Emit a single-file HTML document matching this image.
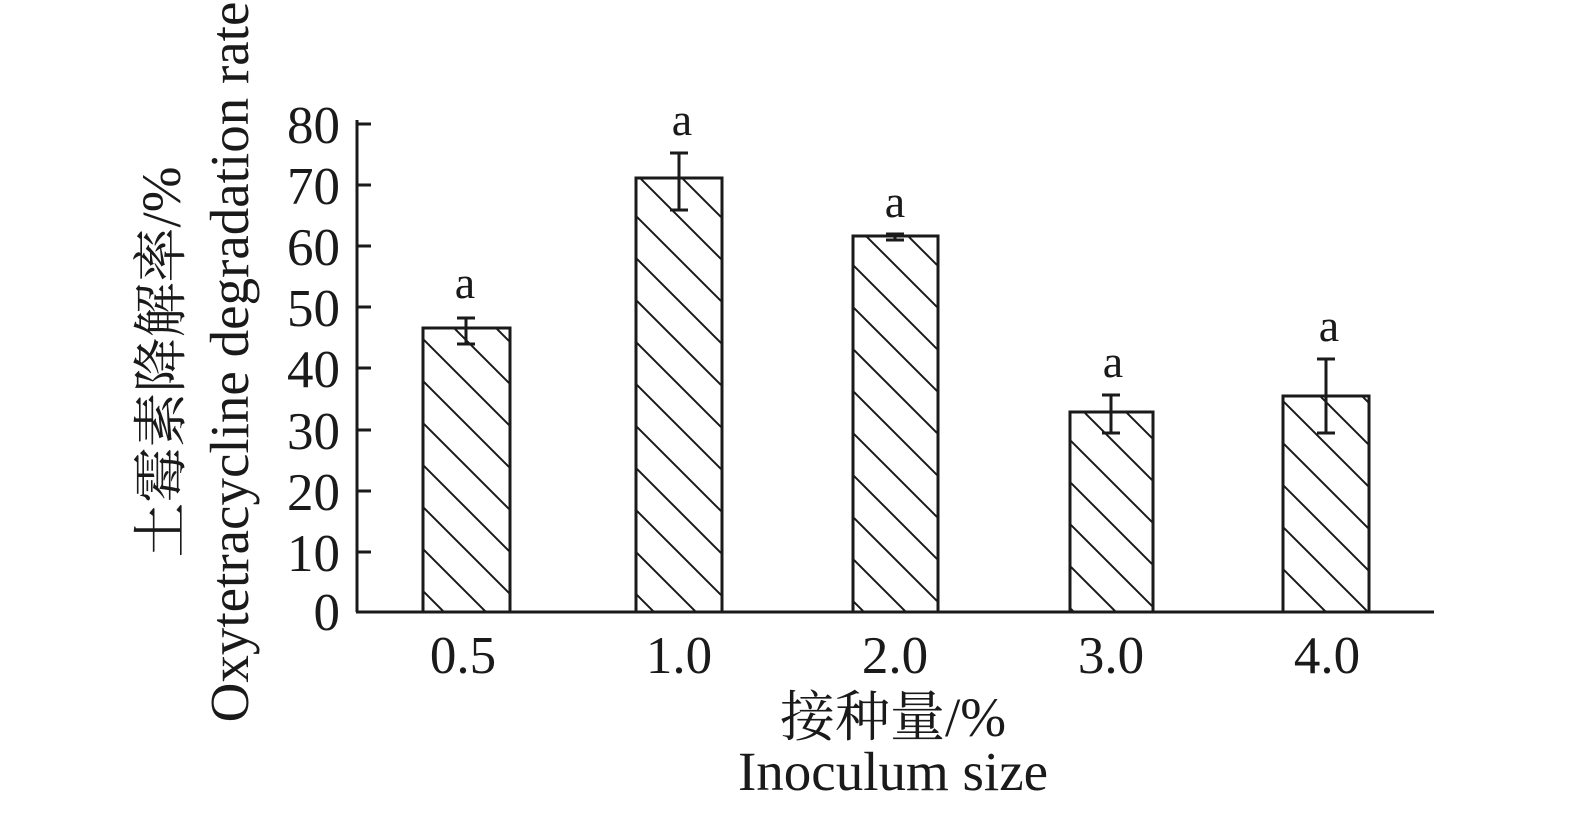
<!DOCTYPE html>
<html><head><meta charset="utf-8"><style>
body{margin:0;background:#fff;}
svg text{font-family:"Liberation Serif","Noto Serif CJK SC",serif;fill:#1a1a1a;}
</style></head><body>
<svg width="1575" height="817" viewBox="0 0 1575 817" xmlns="http://www.w3.org/2000/svg">
<defs>
<pattern id="h" patternUnits="userSpaceOnUse" width="42" height="42" x="0" y="0">
<path d="M-21,-21 L63,63 M-21,21 L21,63 M21,-21 L63,21" stroke="#1a1a1a" stroke-width="2"/>
</pattern>
</defs>
<g stroke="#1a1a1a" stroke-width="3" fill="none">
<line x1="357" y1="120" x2="357" y2="612"/>
<line x1="356" y1="612" x2="1434" y2="612"/>
<line x1="357" y1="124" x2="371" y2="124"/>
<line x1="357" y1="185" x2="371" y2="185"/>
<line x1="357" y1="246" x2="371" y2="246"/>
<line x1="357" y1="307" x2="371" y2="307"/>
<line x1="357" y1="368" x2="371" y2="368"/>
<line x1="357" y1="430" x2="371" y2="430"/>
<line x1="357" y1="491" x2="371" y2="491"/>
<line x1="357" y1="552" x2="371" y2="552"/>
</g>
<g stroke="#1a1a1a" stroke-width="3" fill="url(#h)">
<rect x="423" y="328" width="87" height="284"/>
<rect x="636" y="178" width="86" height="434"/>
<rect x="853" y="236" width="85" height="376"/>
<rect x="1070" y="412" width="83" height="200"/>
<rect x="1283" y="396" width="86" height="216"/>
</g>
<g stroke="#1a1a1a" stroke-width="3">
<path d="M466,318V344M457,318H475M457,344H475"/>
<path d="M679,153V210M670,153H688M670,210H688"/>
<path d="M895,234V240M886,234H904M886,240H904"/>
<path d="M1111,395V433M1102,395H1120M1102,433H1120"/>
<path d="M1326,359V433M1317,359H1335M1317,433H1335"/>
</g>
<g font-size="46" text-anchor="middle">
<text x="465" y="298">a</text>
<text x="682" y="135">a</text>
<text x="895" y="217">a</text>
<text x="1113" y="377">a</text>
<text x="1329" y="341">a</text>
</g>
<g font-size="53" text-anchor="end">
<text x="340" y="143">80</text>
<text x="340" y="204">70</text>
<text x="340" y="265">60</text>
<text x="340" y="326">50</text>
<text x="340" y="387">40</text>
<text x="340" y="449">30</text>
<text x="340" y="510">20</text>
<text x="340" y="571">10</text>
<text x="340" y="630">0</text>
</g>
<g font-size="53" text-anchor="middle">
<text x="463" y="673">0.5</text>
<text x="679" y="673">1.0</text>
<text x="895" y="673">2.0</text>
<text x="1111" y="673">3.0</text>
<text x="1327" y="673">4.0</text>
</g>
<g font-size="55" text-anchor="middle">
<text x="893" y="736">接种量/%</text>
<text x="893" y="790">Inoculum size</text>
<text transform="translate(180,362) rotate(-90)">土霉素降解率/%</text>
<text transform="translate(248,362) rotate(-90)">Oxytetracycline degradation rate</text>
</g>
</svg>
</body></html>
